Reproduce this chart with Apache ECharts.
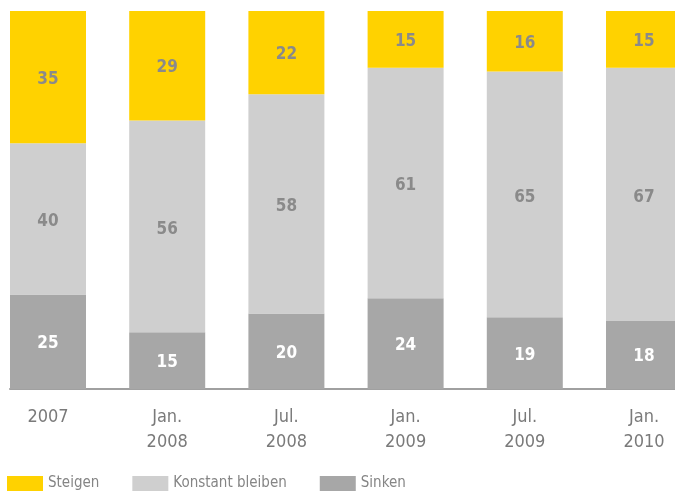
<!DOCTYPE html>
<html>
<head>
<meta charset="utf-8">
<script src="https://cdn.jsdelivr.net/npm/echarts@6/dist/echarts.min.js"></script>
<style>
  html, body { margin: 0; padding: 0; background: #fff; }
  #chart { width: 675px; height: 495px; }
</style>
</head>
<body>
<div id="chart"></div>
<script>
// Daten
var categories = ["2007", "Jan.\n2008", "Jul.\n2008", "Jan.\n2009", "Jul.\n2009", "Jan.\n2010"];
var sinken = [25, 15, 20, 24, 19, 18];
var konstant = [40, 56, 58, 61, 65, 67];
var steigen = [35, 29, 22, 15, 16, 15];

var fontFamily = "'DejaVu Sans Condensed', 'DejaVu Sans', sans-serif";

function labelStyle(color, dy) {
  return {
    show: true,
    position: "inside",
    offset: [0, dy],
    color: color,
    fontSize: 17,
    fontWeight: "bold",
    fontFamily: fontFamily
  };
}

var myChart = echarts.init(document.getElementById("chart"));

var option = {
  animation: false,
  textStyle: { fontFamily: fontFamily },
  legend: {
    left: 7,
    top: 476,
    padding: 0,
    itemWidth: 36,
    itemHeight: 15,
    itemGap: 33,
    icon: "rect",
    textStyle: { color: "#858585", fontSize: 15, fontFamily: fontFamily },
    data: ["Steigen", "Konstant bleiben", "Sinken"]
  },
  grid: [
    { left: 48, right: 31, top: 11, bottom: 106 },
    { left: 10, right: 0, top: 11, bottom: 106 }
  ],
  xAxis: [
    {
      type: "category",
      gridIndex: 0,
      data: categories,
      boundaryGap: false,
      axisLine: { show: false },
      axisTick: { show: false },
      axisLabel: {
        color: "#7a7a7a",
        fontSize: 18,
        lineHeight: 25,
        margin: 16,
        fontFamily: fontFamily
      }
    },
    {
      // nur die Grundlinie
      type: "value",
      gridIndex: 1,
      min: 0,
      max: 1,
      axisLine: { show: true, lineStyle: { color: "#a0a0a0", width: 2 } },
      axisTick: { show: false },
      axisLabel: { show: false },
      splitLine: { show: false }
    }
  ],
  yAxis: [
    { type: "value", gridIndex: 0, min: 0, max: 100, show: false },
    { type: "value", gridIndex: 1, min: 0, max: 1, show: false }
  ],
  series: [
    {
      name: "Sinken",
      type: "bar",
      stack: "total",
      barWidth: 76,
      data: sinken,
      itemStyle: { color: "#a7a7a7" },
      label: labelStyle("#ffffff", 2)
    },
    {
      name: "Konstant bleiben",
      type: "bar",
      stack: "total",
      barWidth: 76,
      data: konstant,
      itemStyle: { color: "#cfcfcf" },
      label: labelStyle("#8a8a8a", 3)
    },
    {
      name: "Steigen",
      type: "bar",
      stack: "total",
      barWidth: 76,
      data: steigen,
      itemStyle: { color: "#ffd200" },
      label: labelStyle("#8a8a8a", 2)
    }
  ]
};

myChart.setOption(option);
</script>
</body>
</html>
